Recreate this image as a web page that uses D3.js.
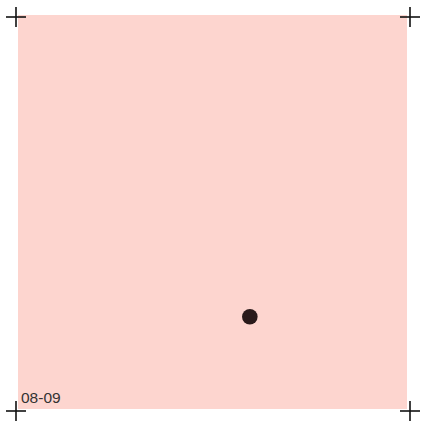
<!DOCTYPE html>
<html>
<head>
<meta charset="utf-8">
<script src="https://cdn.jsdelivr.net/npm/d3@7"></script>
<style>
  body { margin: 0; background: #fff; }
</style>
</head>
<body>
<div id="chart"></div>
<script>
// one swatch, one dot
const labels = ["08-09"];
const xValues = [0.596];
const yValues = [0.234];
const cornerMarks = [[0, 1], [1, 1], [0, 0], [1, 0]];

const w = 422;
const h = 426;
const padLeft = 18, padRight = 407, padTop = 15, padBottom = 409;

const x = d3.scaleLinear().domain([0, 1]).range([padLeft, padRight]);
const y = d3.scaleLinear().domain([0, 1]).range([padBottom, padTop]);

const svg = d3.select("#chart")
  .append("svg")
  .attr("width", w)
  .attr("height", h);

svg.append("rect")
  .attr("x", x(0))
  .attr("y", y(1))
  .attr("width", x(1) - x(0))
  .attr("height", y(0) - y(1))
  .attr("fill", "#fdd5cf");

// crop marks
const marks = svg.selectAll(".mark")
  .data(cornerMarks)
  .enter()
  .append("g")
  .attr("class", "mark")
  .attr("transform", (d) => "translate(" + (x(d[0]) + (d[0] ? 3 : -2)) + "," + (y(d[1]) + 2) + ")");

marks.append("line")
  .attr("x1", -10).attr("x2", 10).attr("y1", 0).attr("y2", 0)
  .attr("stroke", "#111").attr("stroke-width", 1.6);
marks.append("line")
  .attr("x1", 0).attr("x2", 0).attr("y1", -10).attr("y2", 10)
  .attr("stroke", "#111").attr("stroke-width", 1.6);

svg.selectAll(".dot")
  .data(xValues)
  .enter()
  .append("circle")
  .attr("class", "dot")
  .attr("cx", (d) => x(d))
  .attr("cy", (d, i) => y(yValues[i]))
  .attr("r", 7.8)
  .attr("fill", "#2a1a1b");

svg.selectAll(".lbl")
  .data(labels)
  .enter()
  .append("text")
  .attr("class", "lbl")
  .attr("x", x(0) + 3)
  .attr("y", y(0) - 6)
  .attr("font-family", "Liberation Sans, Arial, sans-serif")
  .attr("font-size", 15.5)
  .attr("fill", "#333")
  .text((d) => d);
</script>
</body>
</html>
